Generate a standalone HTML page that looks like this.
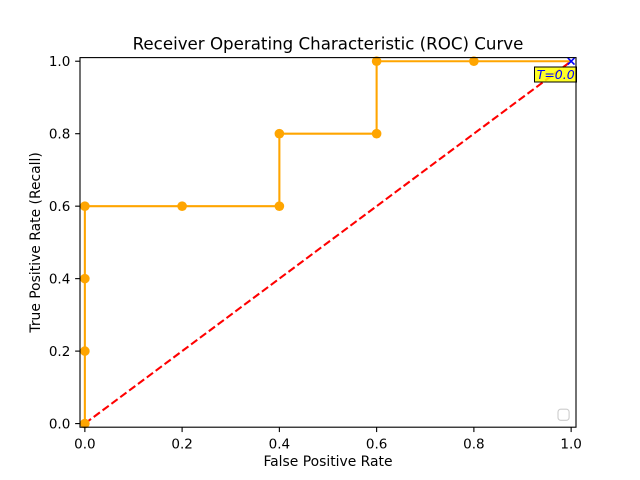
<!DOCTYPE html>
<html><head><meta charset="utf-8"><style>
html,body{margin:0;padding:0;background:#fff;}
svg{display:block;}
text{font-family:"DejaVu Sans","Liberation Sans",sans-serif;fill:#000;}
</style></head><body>
<svg width="640" height="480" viewBox="0 0 640 480" xmlns="http://www.w3.org/2000/svg">
<rect width="640" height="480" fill="#fff"/>
<!-- diagonal -->
<line x1="84.86" y1="423.58" x2="571.14" y2="61.23" stroke="#ff0000" stroke-width="2.08" stroke-dasharray="7.71,3.33"/>
<!-- ROC curve -->
<polyline fill="none" stroke="#ffa500" stroke-width="2.08" stroke-linejoin="round" points="84.86,423.58 84.86,351.11 84.86,278.64 84.86,206.17 182.11,206.17 279.37,206.17 279.37,133.70 376.62,133.70 376.62,61.23 473.88,61.23 571.14,61.23"/>
<g fill="#ffa500">
<circle cx="84.86" cy="423.58" r="4.8"/>
<circle cx="84.86" cy="351.11" r="4.8"/>
<circle cx="84.86" cy="278.64" r="4.8"/>
<circle cx="84.86" cy="206.17" r="4.8"/>
<circle cx="182.11" cy="206.17" r="4.8"/>
<circle cx="279.37" cy="206.17" r="4.8"/>
<circle cx="279.37" cy="133.70" r="4.8"/>
<circle cx="376.62" cy="133.70" r="4.8"/>
<circle cx="376.62" cy="61.23" r="4.8"/>
<circle cx="473.88" cy="61.23" r="4.8"/>
</g>
<!-- blue x -->
<g stroke="#0000ff" stroke-width="1.6">
<line x1="567.8" y1="57.9" x2="574.5" y2="64.6"/>
<line x1="567.8" y1="64.6" x2="574.5" y2="57.9"/>
</g>
<!-- annotation -->
<rect x="534.5" y="67" width="42" height="15" fill="#ffff00" fill-opacity="0.85" stroke="#000" stroke-width="1"/>
<text x="555.7" y="79" font-size="12.5" font-style="italic" fill="#0000ff" style="fill:#0000ff" text-anchor="middle">T=0.0</text>
<!-- legend -->
<rect x="558" y="409.2" width="11.1" height="11.1" rx="2.8" fill="#fff" stroke="#cccccc" stroke-width="1.1"/>
<!-- spines -->
<rect x="80" y="57.6" width="496" height="369.6" fill="none" stroke="#000" stroke-width="1.11"/>
<!-- x ticks -->
<g stroke="#000" stroke-width="1.11">
<line x1="84.86" y1="427.2" x2="84.86" y2="432.06"/>
<line x1="182.11" y1="427.2" x2="182.11" y2="432.06"/>
<line x1="279.37" y1="427.2" x2="279.37" y2="432.06"/>
<line x1="376.62" y1="427.2" x2="376.62" y2="432.06"/>
<line x1="473.88" y1="427.2" x2="473.88" y2="432.06"/>
<line x1="571.14" y1="427.2" x2="571.14" y2="432.06"/>
<line x1="75.14" y1="423.58" x2="80" y2="423.58"/>
<line x1="75.14" y1="351.11" x2="80" y2="351.11"/>
<line x1="75.14" y1="278.64" x2="80" y2="278.64"/>
<line x1="75.14" y1="206.17" x2="80" y2="206.17"/>
<line x1="75.14" y1="133.70" x2="80" y2="133.70"/>
<line x1="75.14" y1="61.23" x2="80" y2="61.23"/>
</g>
<g font-size="13.5" text-anchor="middle">
<text x="84.86" y="448.5">0.0</text>
<text x="182.11" y="448.5">0.2</text>
<text x="279.37" y="448.5">0.4</text>
<text x="376.62" y="448.5">0.6</text>
<text x="473.88" y="448.5">0.8</text>
<text x="571.14" y="448.5">1.0</text>
</g>
<g font-size="13.5" text-anchor="end">
<text x="70.3" y="428.6">0.0</text>
<text x="70.3" y="356.1">0.2</text>
<text x="70.3" y="283.6">0.4</text>
<text x="70.3" y="211.2">0.6</text>
<text x="70.3" y="138.7">0.8</text>
<text x="70.3" y="66.2">1.0</text>
</g>
<text x="328" y="466" font-size="13.9" text-anchor="middle">False Positive Rate</text>
<text transform="translate(40,242.4) rotate(-90)" font-size="13.9" text-anchor="middle">True Positive Rate (Recall)</text>
<text x="328" y="49.3" font-size="16.67" text-anchor="middle">Receiver Operating Characteristic (ROC) Curve</text>
</svg>
</body></html>
